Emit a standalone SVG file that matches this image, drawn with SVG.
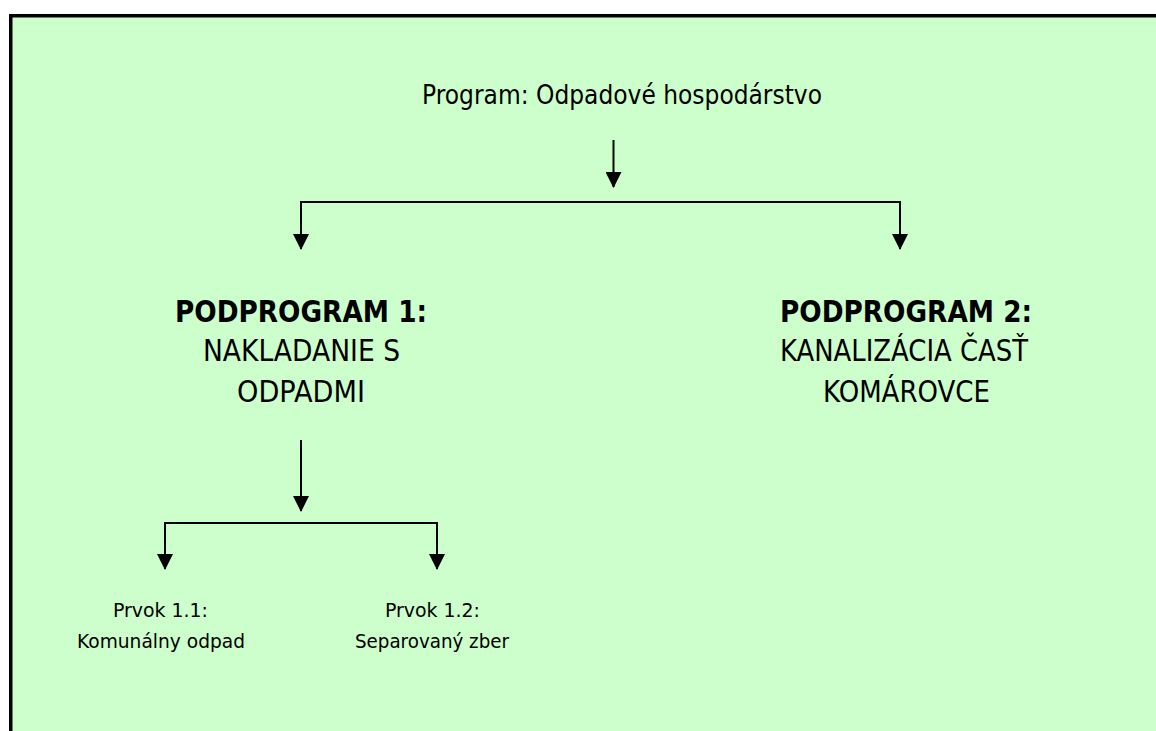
<svg xmlns="http://www.w3.org/2000/svg" width="1156" height="731" viewBox="0 0 1156 731">
  <style>
    .t { font-family: "DejaVu Sans", "Liberation Sans", sans-serif; fill: #000; }
    .title { font-size: 26px; }
    .sub { font-size: 30px; }
    .subb { font-size: 30px; font-weight: bold; }
    .el { font-size: 20px; }
    .conn { stroke: #000; stroke-width: 2; fill: none; }
  </style>
  <defs>
    <marker id="ah" viewBox="0 0 16 16" markerWidth="16" markerHeight="16" markerUnits="userSpaceOnUse" refX="15" refY="8" orient="auto">
      <path d="M0,0 L16,8 L0,16 z" fill="#000"/>
    </marker>
  </defs>
  <rect x="0" y="0" width="1156" height="731" fill="#ffffff"/>
  <rect id="frame" x="10.75" y="15.75" width="1150" height="720" fill="#ccffcc" stroke="#000" stroke-width="3.5"/>

  <g id="connectors">
    <path class="conn" d="M613.5,140 L613.5,187" marker-end="url(#ah)"/>
    <path class="conn" d="M300,202 L901,202"/>
    <path class="conn" d="M301,202 L301,249" marker-end="url(#ah)"/>
    <path class="conn" d="M900,202 L900,249" marker-end="url(#ah)"/>
    <path class="conn" d="M301,440 L301,511" marker-end="url(#ah)"/>
    <path class="conn" d="M164,523 L438,523"/>
    <path class="conn" d="M165,523 L165,569" marker-end="url(#ah)"/>
    <path class="conn" d="M437,523 L437,569" marker-end="url(#ah)"/>
  </g>

  <g id="program">
    <text class="t title" x="422" y="104" textLength="400" lengthAdjust="spacingAndGlyphs">Program: Odpadové hospodárstvo</text>
  </g>

  <g id="podprogram1">
    <text class="t subb" x="175" y="322" textLength="252" lengthAdjust="spacingAndGlyphs">PODPROGRAM 1:</text>
    <text class="t sub" x="203" y="361" textLength="197" lengthAdjust="spacingAndGlyphs">NAKLADANIE S</text>
    <text class="t sub" x="237" y="402" textLength="128" lengthAdjust="spacingAndGlyphs">ODPADMI</text>
  </g>

  <g id="podprogram2">
    <text class="t subb" x="780" y="322" textLength="252" lengthAdjust="spacingAndGlyphs">PODPROGRAM 2:</text>
    <text class="t sub" x="780" y="361" textLength="248" lengthAdjust="spacingAndGlyphs">KANALIZÁCIA ČASŤ</text>
    <text class="t sub" x="823" y="402" textLength="167" lengthAdjust="spacingAndGlyphs">KOMÁROVCE</text>
  </g>

  <g id="prvok11">
    <text class="t el" x="113" y="617" textLength="95" lengthAdjust="spacingAndGlyphs">Prvok 1.1:</text>
    <text class="t el" x="77" y="648" textLength="168" lengthAdjust="spacingAndGlyphs">Komunálny odpad</text>
  </g>

  <g id="prvok12">
    <text class="t el" x="385" y="617" textLength="95" lengthAdjust="spacingAndGlyphs">Prvok 1.2:</text>
    <text class="t el" x="355" y="648" textLength="154" lengthAdjust="spacingAndGlyphs">Separovaný zber</text>
  </g>
</svg>
